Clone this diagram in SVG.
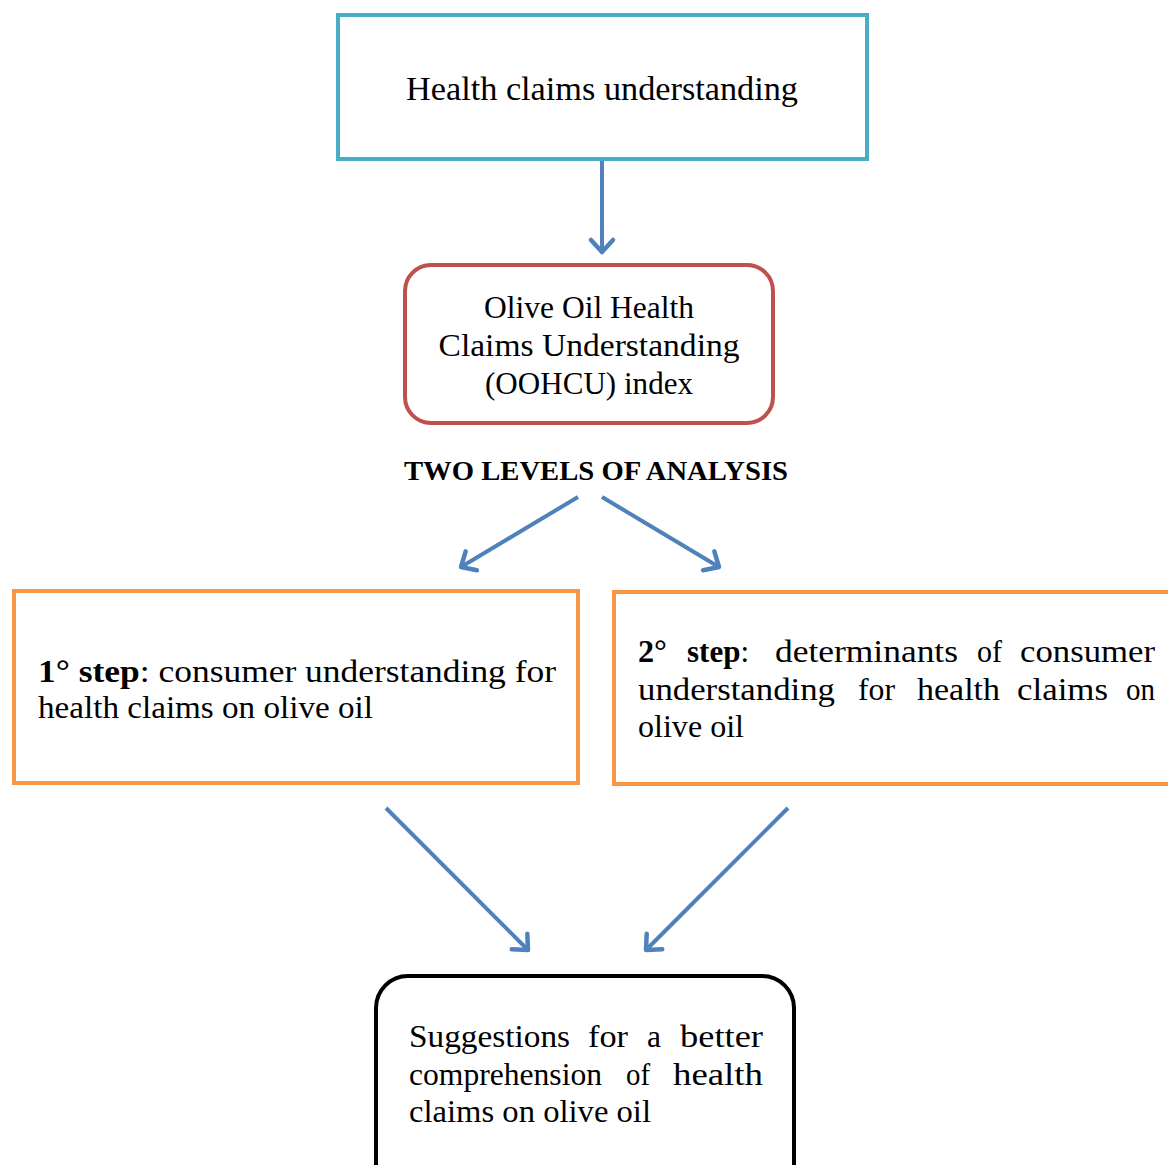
<svg xmlns="http://www.w3.org/2000/svg" width="1168" height="1165" viewBox="0 0 1168 1165">
<style>
  text { font-family: "Liberation Serif", "Times New Roman", serif; fill: #000; }
  .t32 { font-size: 32px; }
  .t34 { font-size: 34px; }
  .b { font-weight: bold; }
  .box { fill: #fff; stroke-width: 4; }
  .conn { stroke: #4F81BD; stroke-width: 4; fill: none; marker-end: url(#ah); }
</style>
<defs>
  <marker id="ah" markerUnits="userSpaceOnUse" markerWidth="30" markerHeight="30" viewBox="0 0 30 30" refX="16" refY="15" orient="auto">
    <path d="M4,4 L16,15 L4,26" fill="none" stroke="#4F81BD" stroke-width="4.5" stroke-linecap="round" stroke-linejoin="round"/>
  </marker>
</defs>
<rect width="1168" height="1165" fill="#fff"/>

<g id="connectors">
  <line class="conn" x1="602" y1="160" x2="602" y2="252"/>
  <line class="conn" x1="578" y1="497" x2="461" y2="567"/>
  <line class="conn" x1="602" y1="497" x2="719" y2="567"/>
  <line class="conn" x1="386" y1="808" x2="528" y2="950"/>
  <line class="conn" x1="788" y1="808" x2="646" y2="950"/>
</g>

<g id="node-health-claims">
  <rect class="box" x="338" y="15" width="529" height="144" stroke="#4BACC6"/>
  <text class="t34" x="602" y="100" text-anchor="middle" textLength="392" lengthAdjust="spacingAndGlyphs">Health claims understanding</text>
</g>

<g id="node-oohcu">
  <rect class="box" x="405" y="265" width="368" height="158" rx="26" stroke="#C0504D"/>
  <text class="t32" x="589" y="318" text-anchor="middle" textLength="210" lengthAdjust="spacingAndGlyphs">Olive Oil Health</text>
  <text class="t32" x="589" y="356" text-anchor="middle" textLength="301" lengthAdjust="spacingAndGlyphs">Claims Understanding</text>
  <text class="t32" x="589" y="394" text-anchor="middle" textLength="208" lengthAdjust="spacingAndGlyphs">(OOHCU) index</text>
</g>

<g id="label-two-levels">
  <text class="b" font-size="28" x="596" y="480" text-anchor="middle" textLength="384" lengthAdjust="spacingAndGlyphs">TWO LEVELS OF ANALYSIS</text>
</g>

<g id="node-step1">
  <rect class="box" x="14" y="591" width="564" height="192" stroke="#F79646"/>
  <text class="t32" x="38" y="682" textLength="518" lengthAdjust="spacingAndGlyphs"><tspan class="b">1° step</tspan>: consumer understanding for</text>
  <text class="t32" x="38" y="718" textLength="335" lengthAdjust="spacingAndGlyphs">health claims on olive oil</text>
</g>

<g id="node-step2">
  <rect class="box" x="614" y="592" width="600" height="192" stroke="#F79646"/>
  <text class="t32 b" x="638" y="662" textLength="29" lengthAdjust="spacingAndGlyphs">2°</text>
  <text class="t32" x="687" y="662" textLength="62" lengthAdjust="spacingAndGlyphs"><tspan class="b">step</tspan>:</text>
  <text class="t32" x="775" y="662" textLength="183" lengthAdjust="spacingAndGlyphs">determinants</text>
  <text class="t32" x="977" y="662" textLength="25" lengthAdjust="spacingAndGlyphs">of</text>
  <text class="t32" x="1020" y="662" textLength="135" lengthAdjust="spacingAndGlyphs">consumer</text>
  <text class="t32" x="638" y="700" textLength="197" lengthAdjust="spacingAndGlyphs">understanding</text>
  <text class="t32" x="858" y="700" textLength="37" lengthAdjust="spacingAndGlyphs">for</text>
  <text class="t32" x="917" y="700" textLength="83" lengthAdjust="spacingAndGlyphs">health</text>
  <text class="t32" x="1017" y="700" textLength="91" lengthAdjust="spacingAndGlyphs">claims</text>
  <text class="t32" x="1126" y="700" textLength="29" lengthAdjust="spacingAndGlyphs">on</text>
  <text class="t32" x="638" y="737" textLength="106" lengthAdjust="spacingAndGlyphs">olive oil</text>
</g>

<g id="node-suggestions">
  <rect class="box" x="376" y="976" width="418" height="230" rx="32" stroke="#000"/>
  <text class="t32" x="409" y="1047" textLength="161" lengthAdjust="spacingAndGlyphs">Suggestions</text>
  <text class="t32" x="588" y="1047" textLength="40" lengthAdjust="spacingAndGlyphs">for</text>
  <text class="t32" x="647" y="1047" textLength="14" lengthAdjust="spacingAndGlyphs">a</text>
  <text class="t32" x="680" y="1047" textLength="83" lengthAdjust="spacingAndGlyphs">better</text>
  <text class="t32" x="409" y="1085" textLength="193" lengthAdjust="spacingAndGlyphs">comprehension</text>
  <text class="t32" x="626" y="1085" textLength="24" lengthAdjust="spacingAndGlyphs">of</text>
  <text class="t32" x="673" y="1085" textLength="90" lengthAdjust="spacingAndGlyphs">health</text>
  <text class="t32" x="409" y="1122" textLength="242" lengthAdjust="spacingAndGlyphs">claims on olive oil</text>
</g>
</svg>
